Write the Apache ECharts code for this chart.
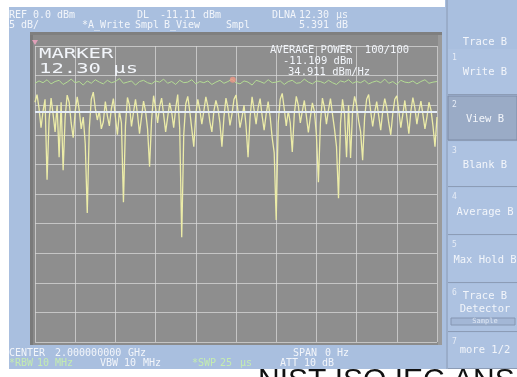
<!DOCTYPE html>
<html>
<head>
<meta charset="utf-8">
<script src="https://cdn.jsdelivr.net/npm/echarts@6/dist/echarts.min.js"></script>
<style>
  html, body { margin: 0; padding: 0; background: #ffffff; }
  #chart { width: 517px; height: 377px; }
</style>
</head>
<body>
<div id="chart"></div>
<script>
// Zero-span sweep: 25 µs across 10 divisions, reference 0 dBm, 5 dB/div
const sweepTimeUs = 25;
const refLevel = 0;
const dbPerDiv = 5;
const displayLine = -11.11;
const markerTime = 12.30;
const markerLevel = -5.7;

// Trace A (yellow), sampled every 0.125 µs, dBm
const traceAStep = 0.125;
const traceA = [
  -9.5, -8.2, -10.5, -13.8, -11, -9, -22.6, -12.5, -8.8, -11.5,
  -14.5, -10, -18.8, -9.5, -21, -12, -8.3, -9.5, -13, -15.5,
  -11, -8.6, -10.8, -14, -12, -16.5, -28.2, -14, -9, -7.8,
  -10.5, -12.5, -11, -14, -12.8, -9.4, -11.8, -13.5, -10.6, -8.9,
  -12, -15, -11, -13, -26.4, -13.5, -8.7, -10, -13.6, -11.2,
  -9, -11.5, -14.8, -12, -9.3, -11, -14, -20.4, -12.5, -8.4,
  -10.5, -13, -10.2, -8.8, -11.6, -14.5, -12, -9.6, -11.2, -13.8,
  -10.5, -8.2, -14, -32.3, -15, -9.8, -8.5, -11, -14, -17,
  -11.5, -9, -10.8, -13.2, -11, -8.6, -10.2, -12.8, -14.5, -11,
  -9.2, -10.5, -13, -17, -12, -8.8, -10.5, -13.4, -11.5, -9,
  -8.3, -11, -13.8, -12, -10, -13.5, -18.8, -12, -8.6, -10.8,
  -13.2, -10.4, -8.9, -11.8, -14.2, -11.5, -9.4, -12, -15.5, -18,
  -29.4, -13, -9, -8, -10.6, -13.5, -11, -13, -17.9, -11.5,
  -8.5, -10, -13, -11, -9.2, -11.8, -14.6, -12, -9.6, -11,
  -15, -23, -13, -8.8, -10.4, -13.2, -10.8, -8.9, -11.5, -14,
  -17, -25.7, -13, -9, -11.5, -18.8, -10, -18.9, -11, -8.5,
  -10, -12.6, -14.5, -19.3, -12, -9, -8.2, -11, -13.6, -11.2,
  -9.4, -11.8, -14.2, -11, -8.9, -10.4, -13, -15, -11.4, -9,
  -8.4, -11, -13.8, -11.5, -9.2, -12, -14.8, -11, -8.7, -10.5,
  -13.2, -11, -9.3, -11.6, -14, -12, -9.5, -10.8, -13.5, -17,
  -12
];

// Trace B (green, averaged view), sampled every 0.25 µs, dBm
const traceBStep = 0.25;
const traceB = [
  -6.3, -5.9, -6.2, -5.7, -6.4, -6.0, -5.8, -6.5, -6.1, -5.6,
  -6.2, -6.0, -6.6, -5.9, -6.3, -5.7, -6.1, -6.4, -5.8, -6.2,
  -6.0, -5.5, -6.3, -6.1, -5.9, -6.6, -6.0, -5.8, -6.2, -6.4,
  -5.9, -6.1, -5.6, -6.3, -6.0, -6.5, -5.8, -6.2, -6.1, -5.7,
  -6.4, -6.0, -6.2, -5.9, -6.5, -6.1, -5.8, -6.3, -6.0, -5.6,
  -6.2, -6.4, -5.9, -6.1, -6.6, -5.8, -6.0, -6.3, -5.7, -6.2,
  -6.1, -5.9, -6.5, -6.0, -5.8, -6.3, -6.2, -5.6, -6.1, -6.4,
  -5.9, -6.0, -6.3, -5.8, -6.2, -6.5, -5.9, -6.1, -5.7, -6.3,
  -6.0, -6.2, -5.8, -6.4, -6.1, -5.9, -6.2, -5.6, -6.3, -6.0,
  -6.5, -5.8, -6.1, -6.2, -5.9, -6.4, -6.0, -5.7, -6.3, -6.1,
  -6.0
];

// Annunciator texts, as [text, x] tokens per row
const headerRow1 = [['REF', 9], ['0.0', 33], ['dBm', 57], ['DL', 137], ['-11.11', 160], ['dBm', 203], ['DLNA', 272], ['12.30', 299], ['µs', 336]];
const headerRow2 = [['5', 9], ['dB/', 21], ['*A_Write', 82], ['Smpl', 135], ['B_View', 164], ['Smpl', 226], ['5.391', 299], ['dB', 336]];
const markerReadout = ['MARKER', '12.30 µs'];
const powerReadout = ['AVERAGE POWER  100/100', '-11.109 dBm', '34.911 dBm/Hz'];
const footerRow1 = [['CENTER', 9], ['2.000000000', 55], ['GHz', 128], ['SPAN', 293], ['0', 325], ['Hz', 337]];
const footerRow2 = [['*RBW', 9, true], ['10', 37, true], ['MHz', 55, true], ['VBW', 100], ['10', 124], ['MHz', 143], ['*SWP', 192, true], ['25', 220, true], ['µs', 240, true], ['ATT', 280], ['10', 304], ['dB', 322]];
const softkeyTitle = 'Trace B';
const softkeys = ['Write B', 'View B', 'Blank B', 'Average B', 'Max Hold B', ['Trace B', 'Detector'], 'more 1/2'];
const caption = 'NIST ISO IEC ANSI';

const seriesA = traceA.map((v, i) => [i * traceAStep, v]);
const seriesB = traceB.map((v, i) => [i * traceBStep, v]);

const MONO = 'DejaVu Sans Mono';
const WHITE = '#f2f5fa';
const GREEN_TXT = '#c4ecb0';
const BLUE = '#a9bfdf';

function txt(x, y, s, opt) {
  opt = opt || {};
  return {
    type: 'text', x: x, y: y, z: 100,
    scaleX: opt.scaleX || 1,
    style: {
      text: s,
      fill: opt.fill || WHITE,
      font: (opt.weight || 'normal') + ' ' + (opt.size || 10) + 'px ' + (opt.family || MONO),
      textAlign: opt.align || 'left',
      textVerticalAlign: 'middle'
    }
  };
}

const graphics = [];
// screen background
graphics.push({ type: 'rect', z: -20, shape: { x: 9, y: 7, width: 440, height: 362 }, style: { fill: BLUE } });
graphics.push({ type: 'rect', z: -20, shape: { x: 445, y: 0, width: 72, height: 369 }, style: { fill: BLUE } });
// display frame
graphics.push({ type: 'rect', z: -15, shape: { x: 30, y: 32, width: 412, height: 313 }, style: { fill: '#8b8b8b' } });
graphics.push({ type: 'rect', z: -14, shape: { x: 30, y: 32, width: 3, height: 313 }, style: { fill: '#7a7a7a' } });
graphics.push({ type: 'rect', z: -14, shape: { x: 30, y: 32, width: 412, height: 3 }, style: { fill: '#7f7f7f' } });
graphics.push({ type: 'rect', z: -13, shape: { x: 35, y: 46, width: 402, height: 296 }, style: { fill: '#8e8e8e' } });
graphics.push({ type: 'rect', z: -12, shape: { x: 438, y: 35, width: 4, height: 310 }, style: { fill: '#9a9a9a' } });

// header
headerRow1.forEach(t => graphics.push(txt(t[1], 15, t[0])));
headerRow2.forEach(t => graphics.push(txt(t[1], 25, t[0])));

// in-display readouts
graphics.push(txt(39, 54, markerReadout[0], { size: 14, scaleX: 1.47 }));
graphics.push(txt(39, 69, markerReadout[1], { size: 14, scaleX: 1.47 }));
graphics.push(txt(270, 50, powerReadout[0], { size: 10.5 }));
graphics.push(txt(283, 61, powerReadout[1], { size: 10.5 }));
graphics.push(txt(288, 72, powerReadout[2], { size: 10.5 }));
// marker reference triangle
graphics.push({ type: 'polygon', z: 100, shape: { points: [[32, 40], [38, 40], [35, 45]] }, style: { fill: '#e0a0b8' } });

// footer
footerRow1.forEach(t => graphics.push(txt(t[1], 353, t[0])));
footerRow2.forEach(t => graphics.push(txt(t[1], 363, t[0], { fill: t[2] ? GREEN_TXT : WHITE })));

// softkey panel
graphics.push({ type: 'line', z: 50, shape: { x1: 447, y1: 0, x2: 447, y2: 369 }, style: { stroke: '#8a9ab4', lineWidth: 1 } });
graphics.push(txt(485, 42, softkeyTitle, { align: 'center', size: 10.5 }));
const keyTops = [48, 95, 141, 187, 235, 283, 332];
const keyBottoms = [95, 141, 187, 235, 283, 332, 369];
softkeys.forEach((label, k) => {
  const top = keyTops[k], bot = keyBottoms[k];
  const pressed = k === 1;
  graphics.push({ type: 'rect', z: 40, shape: { x: 448, y: top + 1, width: 69, height: bot - top - 2 },
    style: { fill: pressed ? '#9aabc6' : '#adc2e1', stroke: pressed ? '#7c8ba6' : null, lineWidth: 1 } });
  graphics.push({ type: 'line', z: 45, shape: { x1: 448, y1: bot - 0.5, x2: 517, y2: bot - 0.5 }, style: { stroke: '#8c9cb6', lineWidth: 1 } });
  graphics.push(txt(452, top + 10, String(k + 1), { size: 8, fill: '#e6ecf6' }));
  if (Array.isArray(label)) {
    graphics.push(txt(485, top + 13, label[0], { align: 'center', size: 10.5 }));
    graphics.push(txt(485, top + 26, label[1], { align: 'center', size: 10.5 }));
    graphics.push({ type: 'rect', z: 60, shape: { x: 451, y: top + 35, width: 64, height: 7 }, style: { fill: '#a3b7d6', stroke: '#8596b2', lineWidth: 1 } });
    graphics.push(txt(485, top + 38.5, 'Sample', { align: 'center', size: 7, fill: '#dfe7f3' }));
  } else {
    graphics.push(txt(485, (top + bot) / 2 + (k === 6 ? 0 : 1), label, { align: 'center', size: 10.5 }));
  }
});

// caption below the screen
graphics.push({ type: 'text', x: 258, y: 381, z: 100, style: { text: caption, fill: '#111111', font: '30px "Liberation Sans"', textVerticalAlign: 'middle' } });

const chart = echarts.init(document.getElementById('chart'), null, { renderer: 'canvas' });
chart.setOption({
  animation: false,
  backgroundColor: '#ffffff',
  grid: { left: 35, top: 46, width: 402, height: 296, show: false },
  xAxis: {
    type: 'value', min: 0, max: sweepTimeUs, interval: sweepTimeUs / 10,
    axisLine: { show: false }, axisTick: { show: false }, axisLabel: { show: false },
    splitLine: { show: true, lineStyle: { color: 'rgba(215,215,215,0.75)', width: 1 } }
  },
  yAxis: {
    type: 'value', min: refLevel - 10 * dbPerDiv, max: refLevel, interval: dbPerDiv,
    axisLine: { show: false }, axisTick: { show: false }, axisLabel: { show: false },
    splitLine: { show: true, lineStyle: { color: 'rgba(215,215,215,0.75)', width: 1 } }
  },
  series: [
    {
      type: 'line', data: seriesA, showSymbol: false, z: 3,
      lineStyle: { color: '#ececa8', width: 1.3 },
      markLine: {
        silent: true, symbol: 'none', z: 10,
        label: { show: false },
        lineStyle: { color: '#e4ecf8', width: 2, type: 'solid' },
        data: [{ yAxis: displayLine }]
      }
    },
    {
      type: 'line', data: seriesB, showSymbol: false, z: 4,
      lineStyle: { color: '#b4dc94', width: 1 }
    },
    {
      type: 'scatter', data: [[markerTime, markerLevel]], z: 6,
      symbol: 'circle', symbolSize: 6,
      itemStyle: { color: '#f09a88' }
    }
  ],
  graphic: graphics
});
</script>
</body>
</html>
